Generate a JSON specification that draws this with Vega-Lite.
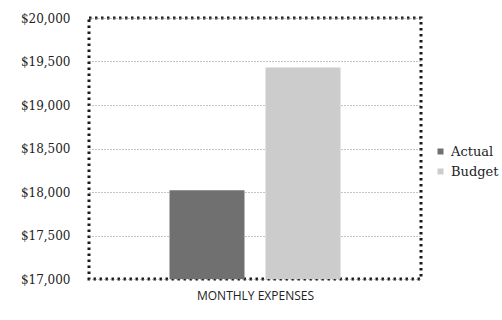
{
  "$schema": "https://vega.github.io/schema/vega-lite/v6.json",
  "width": 332,
  "height": 261,
  "padding": {"left": 20, "top": 12, "right": 5, "bottom": 5},
  "background": "white",
  "data": {"values": [
    {"series": "Actual", "amount": 18020},
    {"series": "Budget", "amount": 19430}
  ]},
  "mark": {"type": "bar"},
  "encoding": {
    "x": {
      "field": "series", "type": "nominal", "sort": ["Actual", "Budget"],
      "scale": {"paddingInner": 0.21875, "paddingOuter": 0.8385},
      "axis": {"labels": false, "ticks": false, "domain": false, "title": "MONTHLY EXPENSES",
               "titleFont": "Open Sans", "titleFontSize": 12, "titleFontWeight": "normal",
               "titleColor": "#222", "titlePadding": 11}
    },
    "y": {
      "field": "amount", "type": "quantitative",
      "scale": {"domain": [17000, 20000], "nice": false, "zero": false},
      "axis": {"values": [17000, 17500, 18000, 18500, 19000, 19500, 20000], "format": "$,.0f",
               "title": null, "ticks": false, "domain": false, "labelPadding": 19,
               "labelFont": "DejaVu Serif", "labelFontSize": 12, "labelColor": "#222",
               "grid": true, "gridDash": [1, 2], "gridColor": "#888", "gridWidth": 1}
    },
    "y2": {"datum": 17000},
    "color": {
      "field": "series", "type": "nominal",
      "scale": {"domain": ["Actual", "Budget"], "range": ["#707070", "#cccccc"]},
      "legend": {"title": null, "orient": "none", "legendX": 345, "legendY": 127,
                 "symbolType": "square", "symbolSize": 36, "symbolStrokeWidth": 0,
                 "labelFont": "DejaVu Serif", "labelFontSize": 13, "labelColor": "#222",
                 "rowPadding": 6, "labelOffset": 4}
    }
  },
  "config": {
    "view": {"stroke": "#1a1a1a", "strokeWidth": 3, "strokeDash": [2.5, 3.5]}
  }
}
